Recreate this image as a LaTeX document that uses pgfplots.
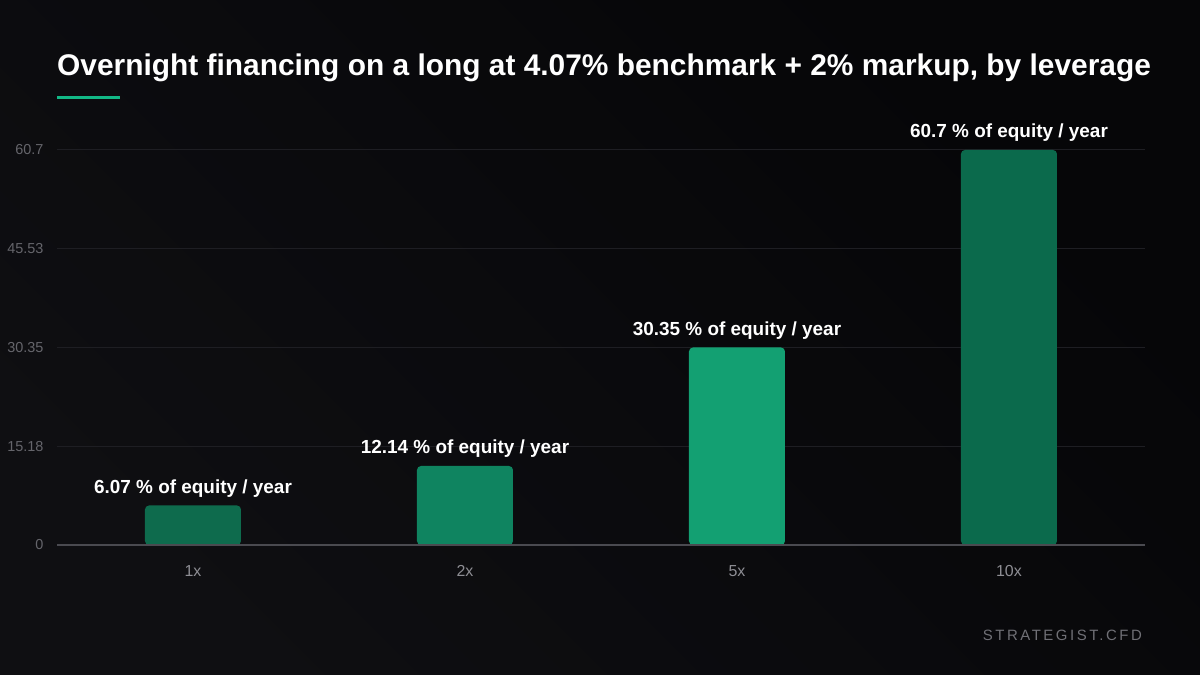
\documentclass[border=0pt]{standalone}
\usepackage{fontspec}
\setmainfont{Liberation Sans}
\usepackage{pgfplots}
\pgfplotsset{compat=1.18}
\definecolor{bgA}{HTML}{141418}
\definecolor{bgB}{HTML}{060608}
\definecolor{barA}{HTML}{0E6B4D}
\definecolor{barB}{HTML}{0F8460}
\definecolor{barC}{HTML}{13A072}
\definecolor{barD}{HTML}{0B6A4C}
\definecolor{accent}{HTML}{12B886}
\definecolor{gridc}{HTML}{1E1E23}
\definecolor{ytickc}{HTML}{65656B}
\definecolor{xtickc}{HTML}{8E8E94}
\definecolor{basec}{HTML}{4A4A50}
\definecolor{wmc}{HTML}{707076}
\begin{document}
\begin{tikzpicture}[x=1bp,y=1bp]
\useasboundingbox (0,0) rectangle (1200,675);
\shade[left color=bgA, right color=bgB, shading angle=135] (0,0) rectangle (1200,675);
\fill[bgB, opacity=0.35] (0,0) rectangle (1200,675);
\node[anchor=base west, inner sep=0, text=white, font=\fontsize{30}{35}\selectfont\bfseries] at (57,599) {Overnight financing on a long at 4.07\% benchmark + 2\% markup, by leverage};
\fill[accent] (57,576) rectangle (120,579);
\node[anchor=base east, inner sep=0, text=wmc, font=\fontsize{15}{17}\selectfont\addfontfeature{LetterSpace=17}] at (1142,34) {STRATEGIST.CFD};
\begin{axis}[
  at={(57bp,130bp)}, anchor=south west,
  width=1088bp, height=395bp, scale only axis,
  xmin=-0.5, xmax=3.5, ymin=0, ymax=60.7,
  clip=false,
  axis line style={draw=none},
  ytick={0,15.18,30.35,45.53,60.7},
  yticklabels={0,15.18,30.35,45.53,60.7},
  xtick={0,1,2,3}, xticklabels={1x,2x,5x,10x},
  major tick length=0pt,
  ymajorgrids, grid style={gridc, line width=1bp},
  yticklabel style={text=ytickc, font=\fontsize{14.5}{17}\selectfont, xshift=-10bp},
  xticklabel style={text=xtickc, font=\fontsize{16}{18}\selectfont, yshift=-17bp},
  /pgf/number format/assume math mode=true,
  ybar, bar width=96bp, bar shift=0pt,
  every axis plot/.append style={draw=none, rounded corners=4bp},
  nodes near coords, point meta=explicit symbolic,
  every node near coord/.append style={text=white, font=\fontsize{19}{22}\selectfont\bfseries, yshift=5bp, rounded corners=0pt},
]
\addplot[fill=barA] coordinates {(0,6.07) [6.07 \% of equity / year]};
\addplot[fill=barB] coordinates {(1,12.14) [12.14 \% of equity / year]};
\addplot[fill=barC] coordinates {(2,30.35) [30.35 \% of equity / year]};
\addplot[fill=barD] coordinates {(3,60.7) [60.7 \% of equity / year]};
\draw[basec, line width=2bp] (axis cs:-0.5,0) -- (axis cs:3.5,0);
\end{axis}
\end{tikzpicture}
\end{document}
